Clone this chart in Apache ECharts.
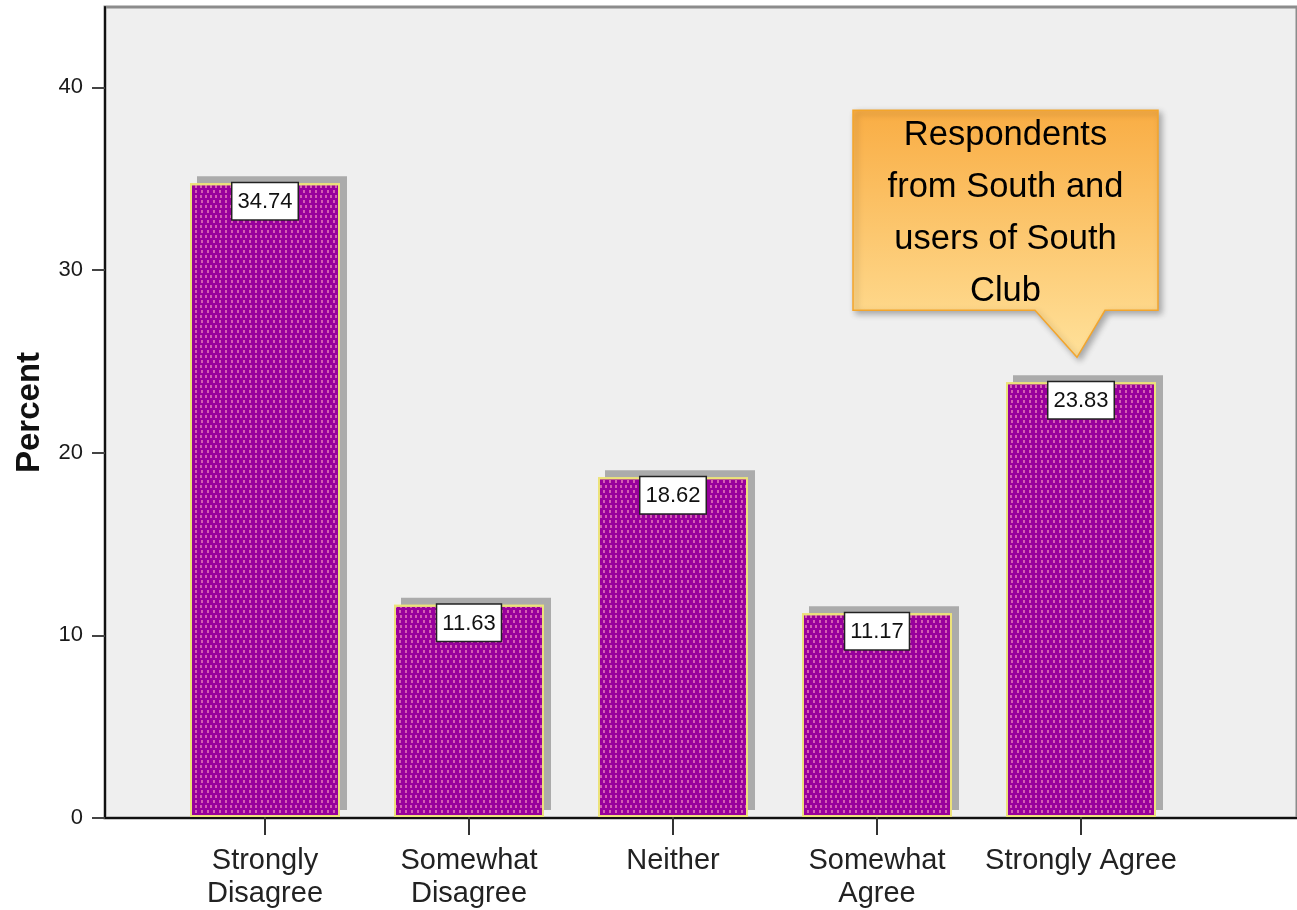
<!DOCTYPE html>
<html>
<head>
<meta charset="utf-8">
<script src="https://cdn.jsdelivr.net/npm/echarts@6/dist/echarts.min.js"></script>
<style>
  html, body { margin: 0; padding: 0; background: #fff; }
  #chart { width: 1297px; height: 910px; }
</style>
</head>
<body>
<div id="chart"></div>
<script>
const categories = ["Strongly\nDisagree", "Somewhat\nDisagree", "Neither", "Somewhat\nAgree", "Strongly Agree"]
const percents = [34.74, 11.63, 18.62, 11.17, 23.83]
const yTicks = [0, 10, 20, 30, 40]
const calloutText = "Respondents\nfrom South and\nusers of South\nClub"
const calloutIndex = 4

const font = "Arial, 'Liberation Sans', sans-serif"
const yMax = 44.4

const myChart = echarts.init(document.getElementById("chart"))

const option = {
  animation: false,
  grid: [
    // frame with background, y axis and base line
    { left: 105, top: 7, right: -20, bottom: 92, show: true, backgroundColor: "#efefef", borderColor: "#8c8c8c", borderWidth: 3 },
    // bars
    { left: 163, top: 7, right: 114, bottom: 92 },
    // drop shadow of the bars, shifted 7px right and 8px up
    { left: 170, top: -1, right: 107, bottom: 100 }
  ],
  xAxis: [
    {
      gridIndex: 0, type: "value", min: 0, max: 1,
      axisLine: { show: true, lineStyle: { color: "#111", width: 2 } },
      axisTick: { show: false }, axisLabel: { show: false }, splitLine: { show: false }
    },
    {
      gridIndex: 1, type: "category", data: categories,
      axisLine: { show: false },
      axisTick: { show: true, alignWithLabel: true, length: 18, lineStyle: { color: "#333", width: 2 } },
      axisLabel: { interval: 0, fontFamily: font, fontSize: 29, lineHeight: 33, color: "#222", margin: 27 }
    },
    { gridIndex: 2, type: "category", data: categories, show: false }
  ],
  yAxis: [
    {
      gridIndex: 0, type: "value", min: 0, max: yMax,
      name: "Percent", nameLocation: "middle", nameGap: 59,
      nameTextStyle: { fontFamily: font, fontSize: 33, fontWeight: "bold", color: "#111" },
      axisLine: { show: true, lineStyle: { color: "#111", width: 2 } },
      axisTick: { show: true, length: 13, customValues: yTicks, lineStyle: { color: "#444", width: 2 } },
      axisLabel: { fontFamily: font, fontSize: 22, color: "#1a1a1a", margin: 22, customValues: yTicks },
      splitLine: { show: false }
    },
    { gridIndex: 1, type: "value", min: 0, max: yMax, show: false, splitLine: { show: false } },
    { gridIndex: 2, type: "value", min: 0, max: yMax, show: false, splitLine: { show: false } }
  ],
  series: [
    {
      type: "bar",
      xAxisIndex: 2,
      yAxisIndex: 2,
      data: percents,
      barWidth: 150,
      silent: true,
      z: 1,
      itemStyle: { color: "#ababab" }
    },
    {
      type: "bar",
      xAxisIndex: 1,
      yAxisIndex: 1,
      data: percents,
      barWidth: 150,
      z: 2,
      itemStyle: {
        color: "#98009c",
        borderColor: "#ece27a",
        borderWidth: 2,
        decal: {
          symbol: "rect",
          symbolSize: 1,
          dashArrayX: [[2, 3], [0, 2.5, 2, 0.5]],
          dashArrayY: [3, 1.5],
          color: "rgba(232, 125, 185, 0.75)"
        }
      },
      label: {
        show: true,
        position: "insideTop",
        distance: 0,
        formatter: (p) => p.value.toFixed(2),
        fontFamily: font,
        fontSize: 22,
        color: "#111",
        backgroundColor: "#fff",
        borderColor: "#222",
        borderWidth: 1.5,
        padding: [8, 5, 6, 5]
      }
    }
  ]
}

myChart.setOption(option)

// callout anchored above the Strongly Agree bar
const tip = myChart.convertToPixel({ seriesIndex: 1 }, [calloutIndex, percents[calloutIndex]])
const tx = tip[0] - 4
const ty = tip[1] - 25
myChart.setOption({
  graphic: [
    {
      type: "polygon",
      z: 100,
      shape: {
        points: [
          [tx - 224, ty - 247], [tx + 81, ty - 247], [tx + 81, ty - 47],
          [tx + 28, ty - 47], [tx, ty], [tx - 42, ty - 47], [tx - 224, ty - 47]
        ]
      },
      style: {
        fill: new echarts.graphic.LinearGradient(0, 0, 0, 1, [
          { offset: 0, color: "#f9ad44" },
          { offset: 1, color: "#ffe19a" }
        ]),
        stroke: "#f3a52c",
        lineWidth: 1.5,
        shadowColor: "rgba(0,0,0,0.3)",
        shadowBlur: 6,
        shadowOffsetX: 3,
        shadowOffsetY: 3
      }
    },
    {
      type: "text",
      z: 101,
      x: tx - 71.5,
      y: ty - 144,
      style: {
        text: calloutText,
        fontFamily: font,
        fontSize: 34.5,
        lineHeight: 52,
        fill: "#000",
        align: "center",
        verticalAlign: "middle"
      }
    }
  ]
})

window.addEventListener("resize", () => {
  myChart.resize()
})
</script>
</body>
</html>
